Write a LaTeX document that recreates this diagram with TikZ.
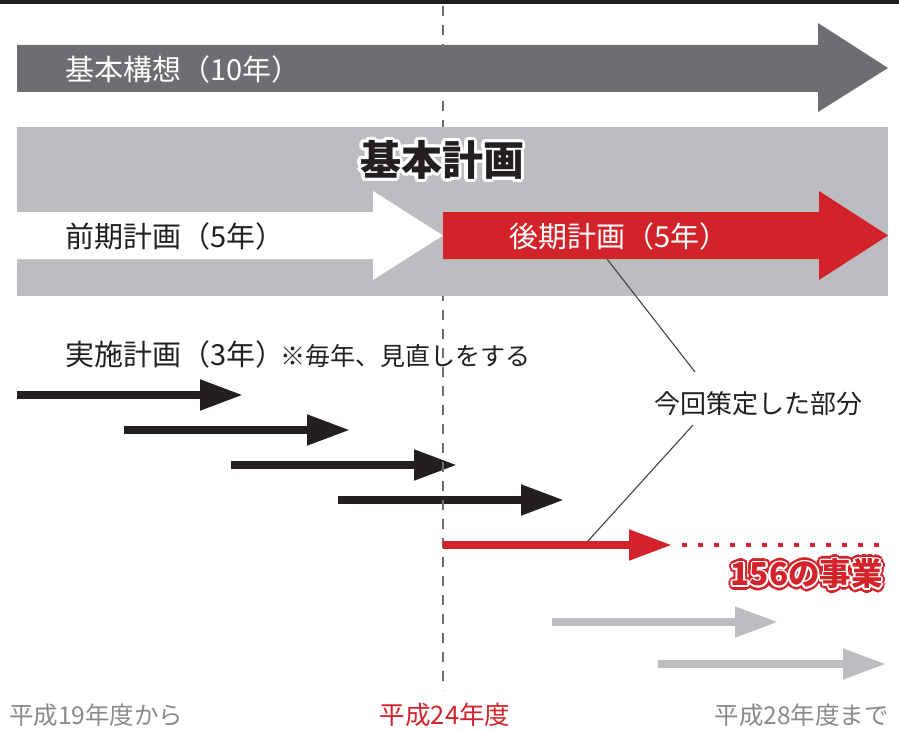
\documentclass[tikz,border=0pt]{standalone}
\usepackage{fontspec}
\setmainfont{Noto Sans CJK JP}
\usetikzlibrary{arrows.meta,calc,positioning}
\definecolor{bandgray}{HTML}{6D6E71}
\definecolor{boxgray}{HTML}{BCBDC0}
\definecolor{planred}{HTML}{D2232A}
\definecolor{inkblack}{HTML}{231F20}
\definecolor{yeargray}{HTML}{8A8A8A}
\newcommand{\pxsize}[1]{\fontsize{#1pt}{#1pt}\selectfont}
\begin{document}
\begin{tikzpicture}[x=1pt,y=-1pt]
            \tikzstyle{every node}=[inner sep=0pt]
            \tikzstyle{plan}=[anchor=west,font=\pxsize{29}]
            \tikzstyle{year}=[font=\pxsize{24.5}]
            \tikzstyle{run}=[line width=8pt,-{Triangle[length=43pt,width=29pt]}]
            \tikzstyle{callout}=[line width=1.1pt,draw=inkblack!85]
            \tikzstyle{divide}=[bandgray,line width=1.5pt,dash pattern=on 10pt off 9pt]
            \useasboundingbox (0,0) rectangle (899,730);
            \fill[inkblack] (0,0) rectangle (899,4.5);
            \draw[divide] (443,6) -- (443,690);
            \fill[bandgray] (17,45) -- (818,45) -- (818,23) -- (888,68) -- (818,112) -- (818,92) -- (17,92) -- cycle;
            \fill[boxgray] (17,127) rectangle (888,296);
            \fill[white] (17,212) -- (373,212) -- (373,191) -- (443,235.5) -- (373,280) -- (373,259) -- (17,259) -- cycle;
            \fill[planred] (443,212) -- (819,212) -- (819,191) -- (888,235.5) -- (819,280) -- (819,259) -- (443,259) -- cycle;
            \draw (65,69) node [plan,text=white] (koso) {基本構想（10年）};
            \foreach \a in {0,30,...,330}
                \draw ($(442,160)+(\a:3.2)$) node [font=\pxsize{41}\bfseries,text=white] {基本計画};
            \draw (442,160) node [font=\pxsize{41}\bfseries,text=inkblack] (kihon) {基本計画};
            \draw (65,236) node [plan,text=inkblack] (zenki) {前期計画（5年）};
            \draw (509,236) node [plan,text=white] (koki) {後期計画（5年）};
            \draw (65,354) node [plan,text=inkblack] (jisshi) {実施計画（3年）};
            \node [anchor=base west,font=\pxsize{25},text=inkblack,xshift=-4pt] (note) at (jisshi.base east) {※毎年、見直しをする};
            \foreach \i in {0,...,3} {
                \coordinate (s\i) at (17+107*\i,395+35*\i);
                \coordinate (e\i) at (243+107*\i,395+35*\i);
                \draw[run,inkblack] (s\i) -- (e\i);
            }
            \begin{scope}
                \clip (0,297) rectangle (899,730);
                \draw[divide] (443,6) -- (443,690);
            \end{scope}
            \coordinate (rs) at (443,545);
            \coordinate (re) at (672,545);
            \draw[run,planred] (rs) -- (re);
            \coordinate (d1) at (682,545);
            \coordinate (d2) at (878.5,545);
            \draw[planred,line width=4.5pt,dash pattern=on 4.5pt off 11.5pt] (d1) -- (d2);
            \draw (758,404) node [font=\pxsize{26},text=inkblack] (part) {今回策定した部分};
            \coordinate (cu) at (695,372);
            \coordinate (pu) at (607,259);
            \coordinate (cd) at (693,425);
            \coordinate (pd) at (588,541);
            \draw[callout] (cu) -- (pu);
            \draw[callout] (cd) -- (pd);
            \foreach \r/\c in {4.2/planred,1.8/white}
                \foreach \a in {0,30,...,330}
                    \draw ($(883,574)+(\a:\r)$) node [anchor=east,font=\pxsize{31.5}\bfseries,text=\c] {156の事業};
            \draw (883,574) node [anchor=east,font=\pxsize{31.5}\bfseries,text=planred] (jigyo) {156の事業};
            \coordinate (g1s) at (552,622);
            \coordinate (g1e) at (778,622);
            \coordinate (g2s) at (658,664);
            \coordinate (g2e) at (886,664);
            \draw[run,boxgray,line width=7.5pt] (g1s) -- (g1e);
            \draw[run,boxgray,line width=7.5pt] (g2s) -- (g2e);
            \draw (9,715) node [year,anchor=west,text=yeargray] (y19) {平成19年度から};
            \draw (445,715) node [year,font=\pxsize{25.5},text=planred] (y24) {平成24年度};
            \draw (889,715) node [year,anchor=east,text=yeargray] (y28) {平成28年度まで};
        \end{tikzpicture}
\end{document}
